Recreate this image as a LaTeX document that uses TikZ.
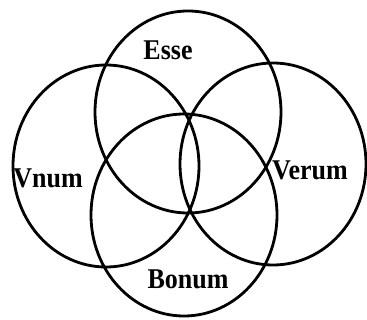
\documentclass[tikz,border=0pt]{standalone}
\usepackage{fontspec}
\setmainfont{Liberation Serif}
\usetikzlibrary{shapes.geometric, positioning}

\begin{document}
\begin{tikzpicture}[
        x = 1pt, y = -1pt,
        on grid,
        ring/.style = {draw, ellipse, line width = 2.8pt, inner sep = 0pt,
                       minimum width = 186pt, minimum height = 202pt},
        word/.style = {font = \fontsize{26}{26}\selectfont\bfseries, inner sep = 0pt,
                       yscale = 1.1}
    ]

    \useasboundingbox (0,0) rectangle (367,320);

      % the four rings
      \node[ring] (top)   at (188,112) {};
      \node[ring] (left)  at (106,166) {};
      \node[ring] (right) at (273,164) {};
      \node[ring] (low)   at (184,215) {};

      % their words
      \node[word] (esse)  at (168,50)  {Esse};
      \node[word] (vnum)  at (48,178)  {Vnum};
      \node[word] (verum) at (310,170) {Verum};
      \node[word] (bonum) at (188,279) {Bonum};

\end{tikzpicture}
\end{document}
